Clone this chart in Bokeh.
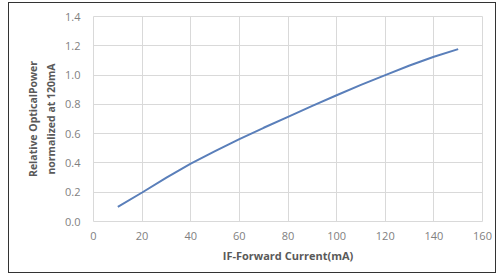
from bokeh.plotting import figure
from bokeh.models import ColumnDataSource, FixedTicker, Range1d, NumeralTickFormatter, LinearAxis
from bokeh.embed import file_html
from bokeh.resources import INLINE

current_ma = [10, 20, 30, 40, 50, 60, 70, 80, 90, 100, 110, 120, 130, 140, 150]
rel_power = [0.10, 0.198, 0.30, 0.395, 0.48, 0.563, 0.64, 0.715, 0.79, 0.862, 0.933, 1.0, 1.065, 1.125, 1.177]
x_ticks = [0, 20, 40, 60, 80, 100, 120, 140, 160]
y_ticks = [0.0, 0.2, 0.4, 0.6, 0.8, 1.0, 1.2, 1.4]

FONT = "Open Sans"
src = ColumnDataSource(dict(x=current_ma, y=rel_power))

p = figure(width=488, height=271, output_backend="svg", toolbar_location=None,
           x_range=Range1d(0, 160), y_range=Range1d(0, 1.4),
           min_border_left=84, min_border_right=15, min_border_top=13, min_border_bottom=53)
p.styles = {"border": "1px solid #333333", "margin-left": "8px", "margin-top": "2px"}
p.outline_line_color = "#d9d9d9"

p.line("x", "y", source=src, line_color="#5a7fba", line_width=2)

# outer axis carrying the first line of the y title
outer = LinearAxis(ticker=FixedTicker(ticks=[]), axis_label="Relative OpticalPower")
p.add_layout(outer, "left")

for ax in (p.xaxis[0], p.yaxis[0], outer):
    ax.axis_line_color = None
    ax.major_tick_line_color = None
    ax.minor_tick_line_color = None
    ax.major_tick_out = 0
    ax.major_label_text_color = "#7f7f7f"
    ax.major_label_text_font = FONT
    ax.major_label_text_font_size = "11px"
    ax.axis_label_text_font = FONT
    ax.axis_label_text_font_style = "bold"
    ax.axis_label_text_font_size = "10.5px"
    ax.axis_label_text_color = "#595959"

outer.major_label_standoff = 0
outer.axis_label_standoff = 2

p.xaxis.ticker = FixedTicker(ticks=x_ticks)
p.yaxis[0].ticker = FixedTicker(ticks=y_ticks)
p.yaxis[0].formatter = NumeralTickFormatter(format="0.0")
p.xaxis.axis_label = "IF-Forward Current(mA)"
p.xaxis.axis_label_text_font_size = "11px"
p.yaxis[0].axis_label = "normalized at 120mA"
p.xaxis.major_label_standoff = 10
p.yaxis[0].major_label_standoff = 13
p.xaxis.axis_label_standoff = 5
p.yaxis[0].axis_label_standoff = 4

p.xgrid.ticker = FixedTicker(ticks=x_ticks)
p.ygrid.ticker = FixedTicker(ticks=y_ticks)
p.grid.grid_line_color = "#d9d9d9"
p.grid.grid_line_width = 1

open("out.html", "w").write(file_html(p, INLINE))
